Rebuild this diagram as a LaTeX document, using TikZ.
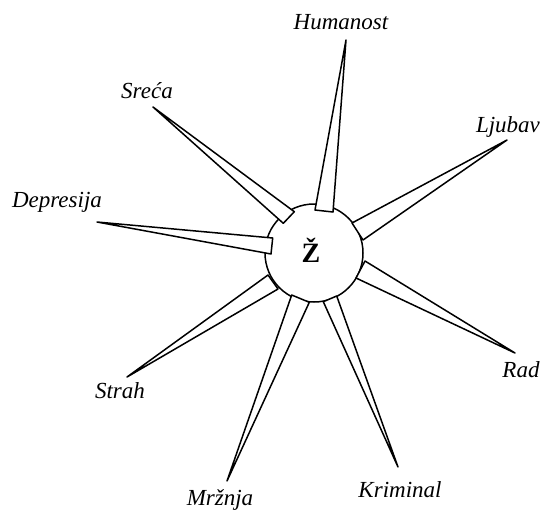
\documentclass[tikz,border=0pt]{standalone}
\usepackage{fontspec}
\setmainfont{Liberation Serif}
\begin{document}
\begin{tikzpicture}[x=1pt,y=-1pt,
  spike/.style={draw, fill=white, line width=1.5pt, line join=round},
  lbl/.style={font=\fontsize{23}{27}\selectfont\itshape, anchor=base, inner sep=0pt}]
\useasboundingbox (0,0) rectangle (545,509);
\node (c) [draw, circle, minimum size=98pt, inner sep=0pt, line width=1.5pt] at (314,253) {};
% spikes: tip, base corners
\coordinate (hT) at (346,40);  \coordinate (hA) at (315,210); \coordinate (hB) at (333,212);
\coordinate (sT) at (153,107); \coordinate (sA) at (283.3,223.3); \coordinate (sB) at (294.3,211.7);
\coordinate (dT) at (97,222);  \coordinate (dA) at (272.7,238); \coordinate (dB) at (271,254);
\coordinate (lT) at (507,140); \coordinate (lA) at (352,223); \coordinate (lB) at (363,240);
\coordinate (rT) at (515,353); \coordinate (rA) at (365,261); \coordinate (rB) at (356,278);
\coordinate (tT) at (127,377); \coordinate (tA) at (268,275); \coordinate (tB) at (278,289);
\coordinate (mT) at (227,481); \coordinate (mA) at (291.7,295); \coordinate (mB) at (309.3,302.3);
\coordinate (kT) at (398,467); \coordinate (kA) at (323.3,301.7); \coordinate (kB) at (336.7,296);
\foreach \s in {h,s,d,l,r,t,m,k}{
  \draw[spike] (\s T) -- (\s A) -- (\s B) -- cycle;
}
\node (z) [anchor=base, inner sep=0pt, font=\fontsize{28}{32}\selectfont\bfseries] at (311,262) {Ž};
\node (hL) [lbl] at (341,29) {Humanost};
\node (sL) [lbl] at (147,98) {Sreća};
\node (dL) [lbl] at (57,207) {Depresija};
\node (lL) [lbl] at (508,132) {Ljubav};
\node (rL) [lbl] at (521,377) {Rad};
\node (tL) [lbl] at (120,398) {Strah};
\node (mL) [lbl] at (220,505) {Mržnja};
\node (kL) [lbl] at (400,497) {Kriminal};
\end{tikzpicture}
\end{document}
